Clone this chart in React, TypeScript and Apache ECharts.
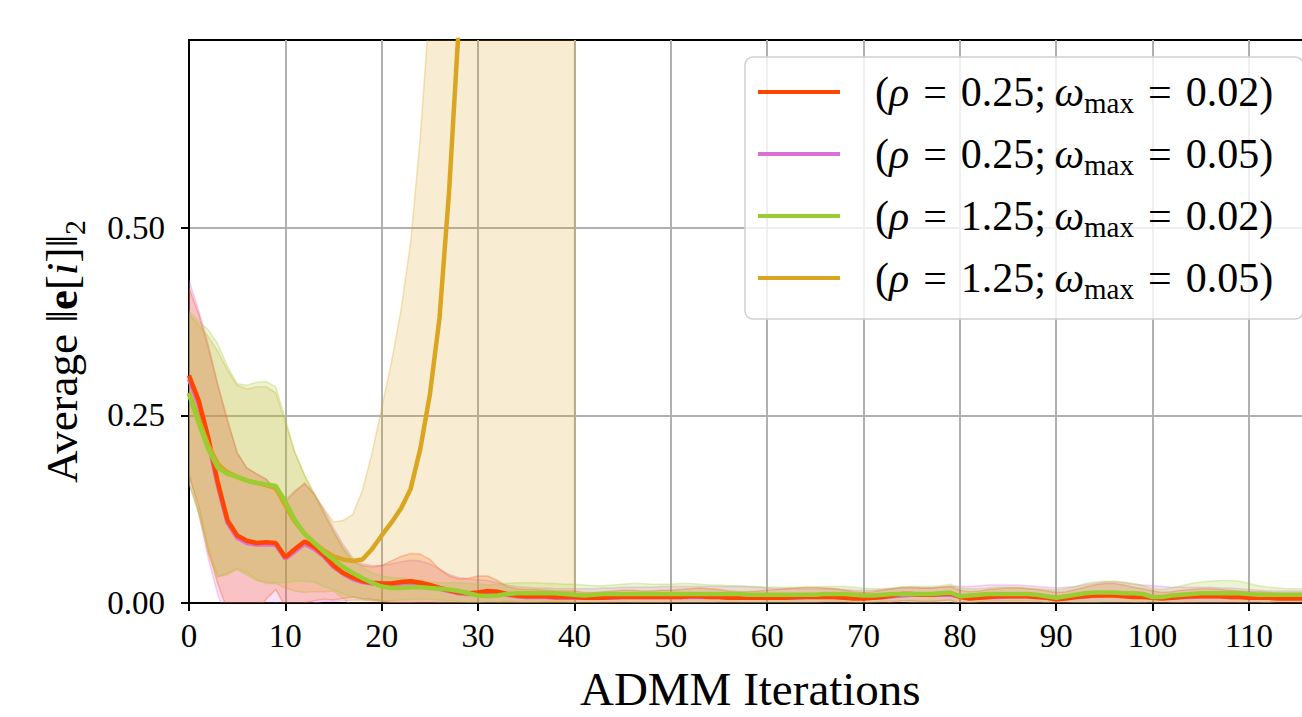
import React, { useEffect, useRef } from "react";
import * as echarts from "echarts";

const FONT = '"Liberation Serif", "DejaVu Serif", serif';

const X_MAX = 116.5;
const X_TICKS = [0, 10, 20, 30, 40, 50, 60, 70, 80, 90, 100, 110];
const Y_TICKS = [0, 0.25, 0.5];

const NAMES = [
  "(ρ = 0.25; ωmax = 0.02)",
  "(ρ = 0.25; ωmax = 0.05)",
  "(ρ = 1.25; ωmax = 0.02)",
  "(ρ = 1.25; ωmax = 0.05)",
];
const RHO = ["0.25", "0.25", "1.25", "1.25"];
const WMAX = ["0.02", "0.05", "0.02", "0.05"];
const COLORS = ["#FF4500", "#DA70D6", "#9ACD32", "#DAA520"];
const RGB = ["255,69,0", "218,112,214", "154,205,50", "218,165,32"];

// rho = 0.25, w = 0.02 (orangered)
const orangeMean = [
  0.303, 0.27, 0.22, 0.16, 0.11, 0.09, 0.083, 0.08, 0.081, 0.08,
  0.061, 0.072, 0.082, 0.075, 0.064, 0.05, 0.04, 0.034, 0.029, 0.027,
  0.026, 0.026, 0.028, 0.029, 0.027, 0.024, 0.02, 0.017, 0.014, 0.013,
  0.014, 0.016, 0.015, 0.012, 0.01, 0.009, 0.009, 0.009, 0.008, 0.008,
  0.008, 0.007, 0.007, 0.007, 0.008, 0.008, 0.008, 0.008, 0.008, 0.008,
  0.008, 0.008, 0.009, 0.009, 0.008, 0.008, 0.007, 0.007, 0.007, 0.007,
  0.007, 0.007, 0.007, 0.008, 0.008, 0.008, 0.008, 0.008, 0.007, 0.006,
  0.006, 0.007, 0.008, 0.01, 0.012, 0.012, 0.011, 0.011, 0.012, 0.013,
  0.008, 0.006, 0.007, 0.008, 0.009, 0.009, 0.009, 0.009, 0.008, 0.007,
  0.005, 0.006, 0.008, 0.009, 0.01, 0.01, 0.01, 0.009, 0.008, 0.008,
  0.007, 0.006, 0.007, 0.008, 0.009, 0.009, 0.009, 0.009, 0.008, 0.008,
  0.007, 0.007, 0.007, 0.006, 0.006, 0.006, 0.006,
];
const orangeUpper = [
  0.42, 0.385, 0.34, 0.29, 0.245, 0.2, 0.18, 0.172, 0.165, 0.15,
  0.135, 0.148, 0.16, 0.145, 0.12, 0.095, 0.072, 0.055, 0.05, 0.048,
  0.05, 0.056, 0.062, 0.066, 0.065, 0.058, 0.045, 0.036, 0.032, 0.033,
  0.036, 0.036, 0.03, 0.022, 0.019, 0.018, 0.018, 0.017, 0.016, 0.016,
  0.016, 0.014, 0.014, 0.015, 0.016, 0.017, 0.017, 0.016, 0.016, 0.017,
  0.017, 0.018, 0.019, 0.02, 0.019, 0.018, 0.016, 0.015, 0.015, 0.016,
  0.017, 0.018, 0.019, 0.02, 0.021, 0.021, 0.02, 0.019, 0.017, 0.015,
  0.014, 0.015, 0.017, 0.019, 0.021, 0.021, 0.02, 0.02, 0.021, 0.022,
  0.017, 0.015, 0.016, 0.018, 0.019, 0.02, 0.02, 0.019, 0.018, 0.016,
  0.014, 0.015, 0.018, 0.021, 0.024, 0.026, 0.026, 0.024, 0.021, 0.019,
  0.016, 0.014, 0.015, 0.017, 0.018, 0.019, 0.019, 0.018, 0.017, 0.016,
  0.015, 0.015, 0.014, 0.013, 0.013, 0.013, 0.013,
];
const orangeLower = [
  0.17, 0.13, 0.07, 0.025, -0.01, -0.02, -0.02, -0.012, 0.005, 0.018,
  -0.005, -0.004, 0.0, 0.003, 0.005, 0.004, 0.006, 0.008, 0.006, 0.005,
  0.003, 0.0, -0.002, -0.004, -0.006, -0.006, -0.004, -0.002, -0.002, -0.004,
  -0.006, -0.004, 0.0, 0.002, 0.001, 0.0, 0.0, 0.001, 0.001, 0.001,
  0.0, 0.0, 0.0, 0.0, 0.0, -0.001, -0.001, 0.0, 0.0, 0.0,
  -0.001, -0.002, -0.001, -0.002, -0.003, -0.002, -0.002, -0.001, -0.001, -0.002,
  -0.003, -0.004, -0.005, -0.004, -0.005, -0.005, -0.004, -0.003, -0.003, -0.003,
  -0.002, -0.001, -0.001, 0.001, 0.003, 0.003, 0.002, 0.002, 0.003, 0.004,
  -0.001, -0.003, -0.002, -0.002, -0.001, -0.002, -0.002, -0.001, -0.002, -0.002,
  -0.004, -0.003, -0.002, -0.003, -0.004, -0.006, -0.006, -0.006, -0.005, -0.003,
  -0.002, -0.002, -0.001, -0.001, 0.0, -0.001, -0.001, 0.0, -0.001, 0.0,
  -0.001, -0.001, 0.0, -0.001, -0.001, -0.001, -0.001,
];

// rho = 0.25, w = 0.05 (orchid)
const orchidMean = [
  0.298, 0.265, 0.215, 0.156, 0.107, 0.087, 0.08, 0.078, 0.078, 0.078,
  0.059, 0.069, 0.079, 0.072, 0.062, 0.048, 0.039, 0.032, 0.028, 0.026,
  0.025, 0.025, 0.026, 0.027, 0.026, 0.023, 0.019, 0.016, 0.013, 0.012,
  0.012, 0.014, 0.013, 0.011, 0.009, 0.008, 0.008, 0.008, 0.007, 0.007,
  0.007, 0.007, 0.007, 0.007, 0.007, 0.008, 0.008, 0.008, 0.008, 0.008,
  0.008, 0.008, 0.008, 0.008, 0.008, 0.008, 0.007, 0.007, 0.007, 0.007,
  0.007, 0.007, 0.007, 0.007, 0.008, 0.008, 0.008, 0.008, 0.007, 0.007,
  0.007, 0.007, 0.008, 0.009, 0.01, 0.011, 0.011, 0.011, 0.011, 0.011,
  0.009, 0.007, 0.007, 0.008, 0.008, 0.009, 0.009, 0.009, 0.008, 0.008,
  0.007, 0.007, 0.008, 0.009, 0.01, 0.011, 0.011, 0.01, 0.009, 0.009,
  0.008, 0.007, 0.007, 0.008, 0.008, 0.009, 0.009, 0.009, 0.008, 0.008,
  0.008, 0.007, 0.007, 0.007, 0.007, 0.007, 0.007,
];
const orchidUpper = [
  0.43, 0.39, 0.345, 0.29, 0.24, 0.2, 0.18, 0.172, 0.165, 0.152,
  0.138, 0.15, 0.158, 0.145, 0.125, 0.1, 0.078, 0.06, 0.052, 0.05,
  0.05, 0.052, 0.055, 0.057, 0.056, 0.052, 0.045, 0.038, 0.034, 0.032,
  0.031, 0.03, 0.027, 0.024, 0.022, 0.021, 0.02, 0.02, 0.019, 0.019,
  0.019, 0.019, 0.019, 0.02, 0.02, 0.021, 0.021, 0.021, 0.021, 0.022,
  0.022, 0.022, 0.022, 0.022, 0.022, 0.022, 0.022, 0.022, 0.022, 0.021,
  0.02, 0.019, 0.019, 0.019, 0.019, 0.019, 0.019, 0.019, 0.018, 0.017,
  0.017, 0.017, 0.018, 0.019, 0.02, 0.02, 0.02, 0.02, 0.021, 0.022,
  0.022, 0.022, 0.023, 0.024, 0.024, 0.024, 0.024, 0.023, 0.022, 0.021,
  0.02, 0.021, 0.022, 0.024, 0.026, 0.028, 0.028, 0.027, 0.025, 0.024,
  0.023, 0.022, 0.021, 0.021, 0.021, 0.021, 0.021, 0.02, 0.02, 0.019,
  0.018, 0.017, 0.016, 0.016, 0.016, 0.016, 0.016,
];
const orchidLower = [
  0.16, 0.12, 0.06, 0.01, -0.02, -0.03, -0.03, -0.02, -0.01, 0.0,
  -0.015, -0.01, -0.005, 0.0, 0.002, 0.002, 0.003, 0.004, 0.004, 0.003,
  0.002, 0.001, 0.0, 0.0, -0.001, -0.001, 0.0, 0.0, 0.0, 0.0,
  -0.001, -0.002, -0.002, -0.001, -0.002, -0.003, -0.003, -0.002, -0.002, -0.002,
  -0.003, -0.003, -0.003, -0.004, -0.004, -0.004, -0.004, -0.004, -0.004, -0.005,
  -0.005, -0.005, -0.005, -0.005, -0.005, -0.005, -0.006, -0.006, -0.006, -0.006,
  -0.005, -0.005, -0.005, -0.005, -0.004, -0.004, -0.004, -0.004, -0.004, -0.004,
  -0.004, -0.004, -0.003, -0.002, -0.001, 0.0, 0.0, 0.0, 0.0, -0.001,
  -0.004, -0.006, -0.007, -0.007, -0.007, -0.007, -0.007, -0.006, -0.006, -0.005,
  -0.006, -0.006, -0.006, -0.006, -0.007, -0.007, -0.007, -0.006, -0.006, -0.006,
  -0.006, -0.006, -0.005, -0.005, -0.004, -0.003, -0.003, -0.003, -0.003, -0.003,
  -0.002, -0.002, -0.002, -0.002, -0.002, -0.002, -0.002,
];

// rho = 1.25, w = 0.02 (yellowgreen)
const greenMean = [
  0.278, 0.24, 0.205, 0.18, 0.172, 0.168, 0.163, 0.16, 0.158, 0.156,
  0.135, 0.11, 0.092, 0.08, 0.068, 0.058, 0.048, 0.04, 0.033, 0.027,
  0.022, 0.02, 0.02, 0.021, 0.021, 0.02, 0.019, 0.018, 0.016, 0.013,
  0.01, 0.009, 0.01, 0.012, 0.013, 0.013, 0.013, 0.013, 0.013, 0.012,
  0.011, 0.01, 0.011, 0.012, 0.012, 0.012, 0.012, 0.012, 0.012, 0.012,
  0.012, 0.012, 0.012, 0.012, 0.012, 0.012, 0.012, 0.012, 0.011, 0.011,
  0.011, 0.011, 0.011, 0.011, 0.011, 0.011, 0.012, 0.012, 0.012, 0.011,
  0.01, 0.01, 0.011, 0.012, 0.012, 0.012, 0.012, 0.012, 0.013, 0.014,
  0.009, 0.01, 0.011, 0.012, 0.012, 0.012, 0.012, 0.012, 0.011, 0.009,
  0.007, 0.009, 0.011, 0.013, 0.014, 0.014, 0.014, 0.013, 0.013, 0.012,
  0.008, 0.008, 0.01, 0.011, 0.012, 0.013, 0.013, 0.013, 0.013, 0.013,
  0.012, 0.011, 0.011, 0.011, 0.011, 0.011, 0.011,
];
const greenUpper = [
  0.389, 0.375, 0.364, 0.345, 0.315, 0.292, 0.29, 0.294, 0.295, 0.288,
  0.245, 0.2, 0.17, 0.145, 0.12, 0.095, 0.075, 0.058, 0.047, 0.04,
  0.036, 0.034, 0.033, 0.032, 0.03, 0.028, 0.027, 0.027, 0.027, 0.026,
  0.025, 0.024, 0.025, 0.026, 0.027, 0.027, 0.027, 0.026, 0.026, 0.025,
  0.025, 0.024, 0.023, 0.023, 0.024, 0.025, 0.026, 0.026, 0.025, 0.025,
  0.025, 0.026, 0.026, 0.025, 0.024, 0.024, 0.023, 0.023, 0.022, 0.022,
  0.021, 0.021, 0.021, 0.021, 0.021, 0.021, 0.022, 0.022, 0.022, 0.021,
  0.02, 0.019, 0.019, 0.02, 0.021, 0.022, 0.022, 0.022, 0.023, 0.025,
  0.02, 0.019, 0.019, 0.02, 0.021, 0.021, 0.021, 0.02, 0.019, 0.018,
  0.017, 0.019, 0.022, 0.026, 0.028, 0.029, 0.029, 0.028, 0.026, 0.023,
  0.019, 0.018, 0.02, 0.023, 0.026, 0.028, 0.029, 0.03, 0.03, 0.029,
  0.026, 0.023, 0.021, 0.02, 0.019, 0.019, 0.019,
];
const greenLower = [
  0.159, 0.12, 0.075, 0.035, 0.04, 0.045, 0.037, 0.03, 0.028, 0.027,
  0.027, 0.029, 0.029, 0.028, 0.022, 0.018, 0.012, 0.008, 0.005, 0.004,
  0.003, 0.003, 0.004, 0.005, 0.005, 0.005, 0.004, 0.003, 0.002, 0.001,
  0.0, -0.001, -0.001, 0.0, 0.001, 0.001, 0.001, 0.001, 0.001, 0.001,
  0.0, 0.0, 0.0, 0.001, 0.001, 0.001, 0.0, 0.0, 0.0, 0.0,
  0.0, 0.0, 0.0, 0.0, 0.0, 0.001, 0.001, 0.001, 0.0, 0.0,
  0.001, 0.001, 0.001, 0.001, 0.001, 0.001, 0.002, 0.002, 0.002, 0.001,
  0.0, 0.001, 0.002, 0.003, 0.003, 0.002, 0.002, 0.002, 0.003, 0.003,
  -0.002, 0.0, 0.002, 0.003, 0.003, 0.003, 0.003, 0.003, 0.003, 0.0,
  -0.003, -0.001, 0.0, 0.0, 0.0, -0.001, -0.001, -0.001, 0.0, 0.001,
  -0.003, -0.002, 0.0, 0.0, -0.002, -0.002, -0.003, -0.003, -0.003, -0.003,
  -0.002, -0.001, 0.001, 0.002, 0.003, 0.003, 0.003,
];

// rho = 1.25, w = 0.05 (goldenrod) — diverges, run stops at iteration 40
const goldMean = [
  0.28, 0.245, 0.21, 0.185, 0.174, 0.168, 0.163, 0.16, 0.157, 0.153,
  0.13, 0.108, 0.092, 0.08, 0.07, 0.062, 0.058, 0.056, 0.058, 0.072,
  0.09, 0.107, 0.126, 0.152, 0.205, 0.278, 0.38, 0.55, 0.77, 1.1,
  1.5, 2.0, 2.6, 3.3, 4.1, 5.0, 6.0, 7.1, 8.3, 9.6, 11,
];
const goldUpper = [
  0.385, 0.37, 0.355, 0.335, 0.31, 0.29, 0.285, 0.288, 0.288, 0.28,
  0.24, 0.2, 0.17, 0.145, 0.125, 0.108, 0.11, 0.118, 0.15, 0.2,
  0.26, 0.32, 0.39, 0.48, 0.62, 0.8, 1.0, 1.3, 1.7, 2.2,
  2.9, 3.7, 4.6, 5.7, 6.9, 8.3, 9.9, 11.6, 13.5, 15.6, 18,
];
const goldLower = [
  0.175, 0.12, 0.065, 0.035, 0.038, 0.046, 0.04, 0.032, 0.026, 0.026,
  0.02, 0.016, 0.014, 0.015, 0.015, 0.016, 0.006, -0.006, -0.034, -0.056,
  -0.08, -0.106, -0.138, -0.176, -0.21, -0.244, -0.24, -0.2, -0.16, -0.1,
  -0.1, -0.3, -0.4, -0.7, -0.7, -1.3, -0.9, -1.4, -2.9, -2.4, -4,
];

const pts = (arr: number[]) => arr.map((v, i) => [i, v]);

function meanSeries(idx: number, data: number[]) {
  return {
    name: NAMES[idx],
    type: "line",
    data: pts(data),
    symbol: "none",
    lineStyle: { color: COLORS[idx], width: 4.5 },
    itemStyle: { color: COLORS[idx] },
    emphasis: { disabled: true },
    silent: true,
  };
}

// mean ± std band, drawn as one polygon through the axis scales
function bandSeries(idx: number, lo: number[], hi: number[]) {
  return {
    name: "band" + idx,
    type: "custom",
    clip: true,
    silent: true,
    data: lo.map((v, i) => [i, v, hi[i]]),
    encode: { x: 0, y: [1, 2] },
    renderItem: (params: any, api: any) => {
      if (params.dataIndex !== 0) return null;
      const top = hi.map((v, i) => api.coord([i, v]));
      const bottom = lo.map((v, i) => api.coord([i, v])).reverse();
      return {
        type: "polygon",
        shape: { points: top.concat(bottom) },
        style: {
          fill: "rgba(" + RGB[idx] + ",0.2)",
          stroke: "rgba(" + RGB[idx] + ",0.3)",
          lineWidth: 1.5,
        },
      };
    },
  };
}

const RICH_NAME: Record<string, string> = {};
NAMES.forEach((n, i) => {
  RICH_NAME[n] =
    "{g|}{p|(}{i|ρ}{p|\u2004=\u2004" +
    RHO[i] +
    ";\u2009}{i|ω}{s|max}{p|\u2004=\u2004" +
    WMAX[i] +
    ")}";
});

export default function App() {
  const ref = useRef<HTMLDivElement>(null);

  useEffect(() => {
    if (!ref.current) return;
    const chart = echarts.init(ref.current, undefined, { renderer: "svg" });

    const series: any[] = [
      meanSeries(1, orchidMean),
      bandSeries(1, orchidLower, orchidUpper),
      meanSeries(0, orangeMean),
      bandSeries(0, orangeLower, orangeUpper),
      meanSeries(3, goldMean),
      bandSeries(3, goldLower, goldUpper),
      meanSeries(2, greenMean),
      bandSeries(2, greenLower, greenUpper),
    ];

    chart.setOption({
      animation: false,
      backgroundColor: "#ffffff",
      textStyle: { fontFamily: FONT },
      grid: {
        left: 189,
        top: 40,
        width: 1122.6,
        height: 567,
        show: true,
        borderColor: "#000",
        borderWidth: 2,
        backgroundColor: "transparent",
      },
      legend: {
        show: true,
        orient: "vertical",
        left: 745,
        top: 57,
        data: NAMES,
        icon: "rect",
        itemWidth: 82,
        itemHeight: 4,
        itemGap: 12,
        selectedMode: false,
        padding: [10, 30, 16, 13],
        backgroundColor: "rgba(255,255,255,0.8)",
        borderColor: "#d0d0d0",
        borderWidth: 1.5,
        borderRadius: 8,
        formatter: (name: string) => RICH_NAME[name] || name,
        textStyle: {
          fontFamily: FONT,
          fontSize: 42,
          lineHeight: 50,
          color: "#000",
          rich: {
            g: { width: 30, fontSize: 42, lineHeight: 50 },
            p: { fontFamily: FONT, fontSize: 42, lineHeight: 50, color: "#000" },
            i: { fontFamily: FONT, fontSize: 42, lineHeight: 50, fontStyle: "italic", color: "#000" },
            s: { fontFamily: FONT, fontSize: 29, lineHeight: 29, verticalAlign: "bottom", color: "#000" },
          },
        },
      },
      xAxis: {
        type: "value",
        min: 0,
        max: X_MAX,
        interval: 10,
        name: "ADMM Iterations",
        nameLocation: "middle",
        nameGap: 62,
        nameTextStyle: { fontFamily: FONT, fontSize: 47, color: "#000" },
        axisLine: { show: true, onZero: false, lineStyle: { color: "#000", width: 2 } },
        axisTick: {
          show: true,
          length: 8,
          customValues: X_TICKS,
          lineStyle: { color: "#000", width: 2 },
        },
        axisLabel: {
          customValues: X_TICKS,
          fontFamily: FONT,
          fontSize: 33,
          color: "#000",
          margin: 16,
        },
        splitLine: { show: true, lineStyle: { color: "#b0b0b0", width: 2 } },
      },
      yAxis: {
        type: "value",
        min: 0,
        max: 0.75,
        interval: 0.25,
        name: "{n|Average ‖}{b|e}{n|[}{it|i}{n|]‖}{s|2}",
        nameLocation: "middle",
        nameGap: 100,
        nameTextStyle: {
          fontFamily: FONT,
          fontSize: 45,
          color: "#000",
          padding: [0, 60, 0, 0],
          rich: {
            n: { fontFamily: FONT, fontSize: 45, lineHeight: 54, color: "#000" },
            b: { fontFamily: FONT, fontSize: 45, lineHeight: 54, fontWeight: "bold", color: "#000" },
            it: { fontFamily: FONT, fontSize: 45, lineHeight: 54, fontStyle: "italic", color: "#000" },
            s: { fontFamily: FONT, fontSize: 30, lineHeight: 30, verticalAlign: "bottom", color: "#000" },
          },
        },
        axisLine: { show: true, lineStyle: { color: "#000", width: 2 } },
        axisTick: {
          show: true,
          length: 8,
          customValues: Y_TICKS,
          lineStyle: { color: "#000", width: 2 },
        },
        axisLabel: {
          customValues: Y_TICKS,
          formatter: (v: number) => v.toFixed(2),
          fontFamily: FONT,
          fontSize: 33,
          color: "#000",
          margin: 24,
        },
        splitLine: { show: true, lineStyle: { color: "#b0b0b0", width: 2 } },
      },
      series,
    });

    return () => {
      chart.dispose();
    };
  }, []);

  return (
    <div
      style={{
        position: "fixed",
        left: 0,
        top: 0,
        width: "100vw",
        height: "100vh",
        overflow: "hidden",
        background: "#fff",
      }}
    >
      <div ref={ref} style={{ width: 1320, height: 717 }} />
    </div>
  );
}
